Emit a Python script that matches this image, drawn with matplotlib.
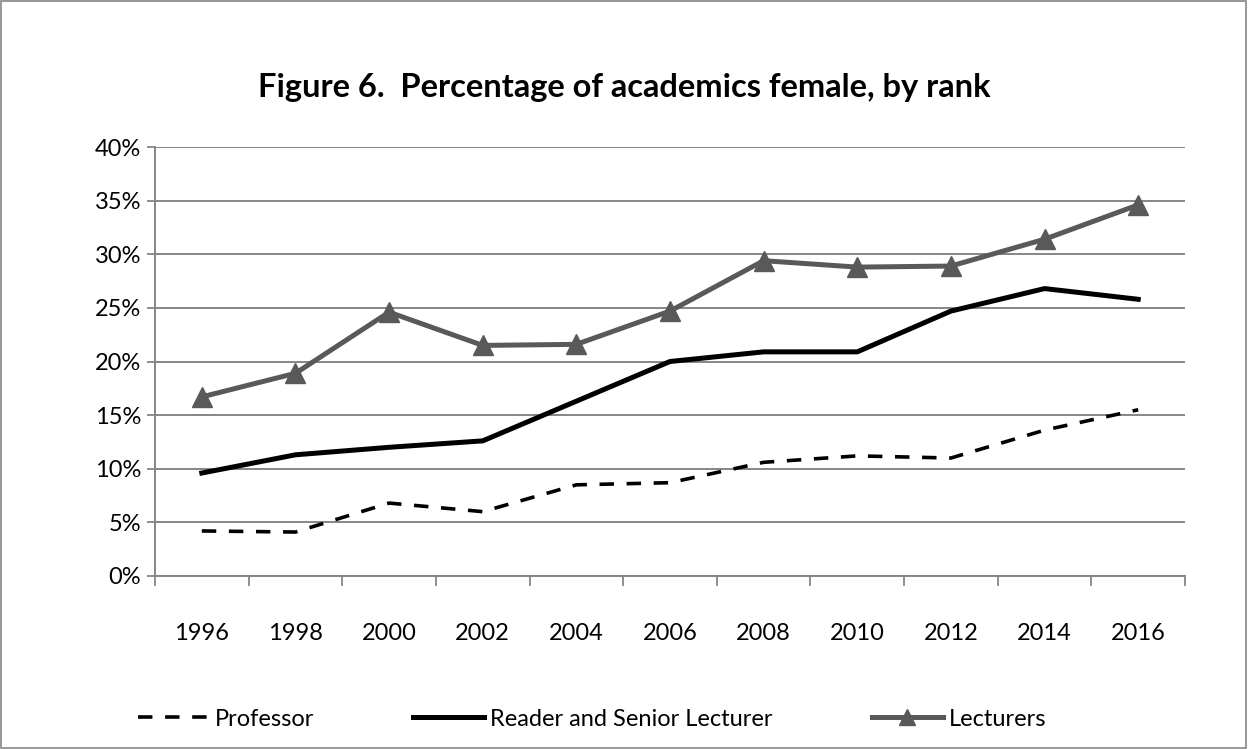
import matplotlib.pyplot as plt
from matplotlib.patches import Rectangle
from matplotlib.ticker import FuncFormatter, FixedLocator
import numpy as np

# Data
years = ['1996', '1998', '2000', '2002', '2004', '2006', '2008', '2010', '2012', '2014', '2016']
professor = [4.2, 4.1, 6.8, 6.0, 8.5, 8.7, 10.6, 11.2, 11.0, 13.6, 15.5]
reader = [9.6, 11.3, 12.0, 12.6, 16.3, 20.0, 20.9, 20.9, 24.7, 26.8, 25.8]
lecturers = [16.7, 18.9, 24.6, 21.5, 21.6, 24.7, 29.4, 28.8, 28.9, 31.4, 34.6]

plt.rcParams['font.family'] = ['Lato', 'DejaVu Sans']

fig = plt.figure(figsize=(12.48, 7.49), dpi=100)
ax = fig.add_axes([155 / 1248, 1 - 576 / 749, 1030 / 1248, 429 / 749])

x = np.arange(len(years))
grid_col = '#868686'

ax.plot(x, professor, color='black', lw=2.6, dashes=(4, 3.5), label='Professor')
ax.plot(x, reader, color='black', lw=3.6, label='Reader and Senior Lecturer')
ax.plot(x, lecturers, color='#595959', lw=3.6, marker='^', markersize=15,
        label='Lecturers')

ax.set_xlim(-0.5, len(years) - 0.5)
ax.set_ylim(0, 40)
ax.set_yticks(np.arange(0, 41, 5))
ax.yaxis.set_major_formatter(FuncFormatter(lambda v, p: f'{int(v)}%'))
ax.set_xticks(x)
ax.set_xticklabels(years)
ax.xaxis.set_minor_locator(FixedLocator(np.arange(-0.5, len(years), 1)))
ax.tick_params(axis='x', which='major', length=0, pad=34, labelsize=17)
ax.tick_params(axis='x', which='minor', length=7, width=1.3, color=grid_col)
ax.tick_params(axis='y', length=6, width=1.3, color=grid_col, labelsize=17, pad=4)

ax.grid(True, axis='y', color=grid_col, lw=1.4)
ax.set_axisbelow(True)
for s in ['top', 'right']:
    ax.spines[s].set_visible(False)
for s in ['left', 'bottom']:
    ax.spines[s].set_color(grid_col)
    ax.spines[s].set_linewidth(1.4)

fig.text(0.5, 1 - 88 / 749, 'Figure 6.  Percentage of academics female, by rank',
         ha='center', va='center', fontsize=23.5, fontweight='bold')

fig.legend(loc='center', bbox_to_anchor=(592 / 1248, 1 - 719 / 749), ncol=3, frameon=False,
           fontsize=17, handlelength=3.0, handletextpad=0.25, columnspacing=4.2,
           markerscale=0.8)

fig.patches.append(Rectangle((0.001, 0.001), 0.997, 0.997, transform=fig.transFigure,
                             fill=False, edgecolor=grid_col, lw=1.2))

plt.savefig('out.png', dpi=100)
plt.close()
